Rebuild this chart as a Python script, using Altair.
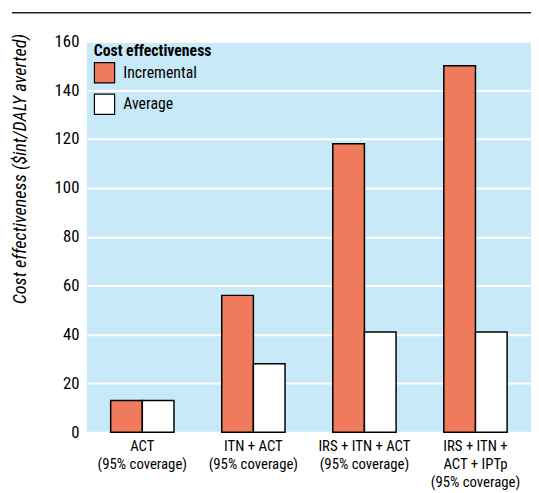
import altair as alt
import pandas as pd

categories = ["ACT|(95% coverage)", "ITN + ACT|(95% coverage)",
              "IRS + ITN + ACT|(95% coverage)", "IRS + ITN +|ACT + IPTp|(95% coverage)"]
incremental = [13, 56, 118, 150]
average = [13, 28, 41, 41]
series = ["Incremental", "Average"]
y_ticks = [0, 20, 40, 60, 80, 100, 120, 140, 160]

rows = []
for c, i, a in zip(categories, incremental, average):
    rows.append({"cat": c, "series": "Incremental", "value": i})
    rows.append({"cat": c, "series": "Average", "value": a})
df = pd.DataFrame(rows)

FONT = "Liberation Sans Narrow, Roboto Condensed, Arial Narrow, sans-serif"

bars = alt.Chart(df).mark_bar(stroke="black", strokeWidth=1.5, clip=False).encode(
    x=alt.X("cat:N", sort=categories,
            scale=alt.Scale(paddingInner=0.43, paddingOuter=0.215),
            axis=alt.Axis(title=None, labelAngle=0, labelExpr="split(datum.label, '|')",
                          labelFontSize=15, labelLineHeight=18, labelColor="black",
                          labelBaseline="top",
                          ticks=False, domain=False, labelPadding=7, labelFont=FONT)),
    xOffset=alt.XOffset("series:N", sort=series),
    y=alt.Y("value:Q", scale=alt.Scale(domain=[0, 160], nice=False),
            axis=alt.Axis(values=y_ticks, title="Cost effectiveness ($int/DALY averted)",
                          titleFontStyle="italic", titleFontWeight="normal", titleFontSize=18.5,
                          titleFont=FONT, titleColor="black", titleAnchor="end", titleAlign="right",
                          titleY=-8, titleX=-77, titleBaseline="top", titleAngle=270,
                          labelFont=FONT,
                          labelFontSize=17, labelColor="black", ticks=False, domain=False,
                          labelPadding=8, grid=True, gridColor="white", gridWidth=2)),
    color=alt.Color("series:N", sort=series,
                    scale=alt.Scale(domain=series, range=["#F07B5C", "#FFFFFF"]),
                    legend=alt.Legend(title="Cost effectiveness", orient="none",
                                      legendX=7, legendY=2, symbolType="square",
                                      symbolSize=420, symbolStrokeColor="black",
                                      symbolStrokeWidth=1.2, symbolFillColor="white",
                                      titleFont=FONT, titleFontSize=16, titleFontWeight="bold",
                                      titleColor="black", labelFont=FONT, labelFontSize=16,
                                      labelColor="black", rowPadding=6, titlePadding=3,
                                      labelOffset=8)),
)

topline = alt.Chart(pd.DataFrame({"k": [0]})).mark_rule(color="#222222", strokeWidth=1.5, clip=False).encode(
    x=alt.value(-76), x2=alt.value(451), y=alt.value(-29)
)

chart = alt.layer(bars, topline).properties(
    width=451, height=397,
    autosize=alt.AutoSizeParams(type="none"),
    padding={"left": 80, "top": 30, "right": 0, "bottom": 60},
).configure_view(fill="#C8E9F8", stroke=None)

chart.save("out.html", embed_options={"renderer": "svg", "actions": False})
